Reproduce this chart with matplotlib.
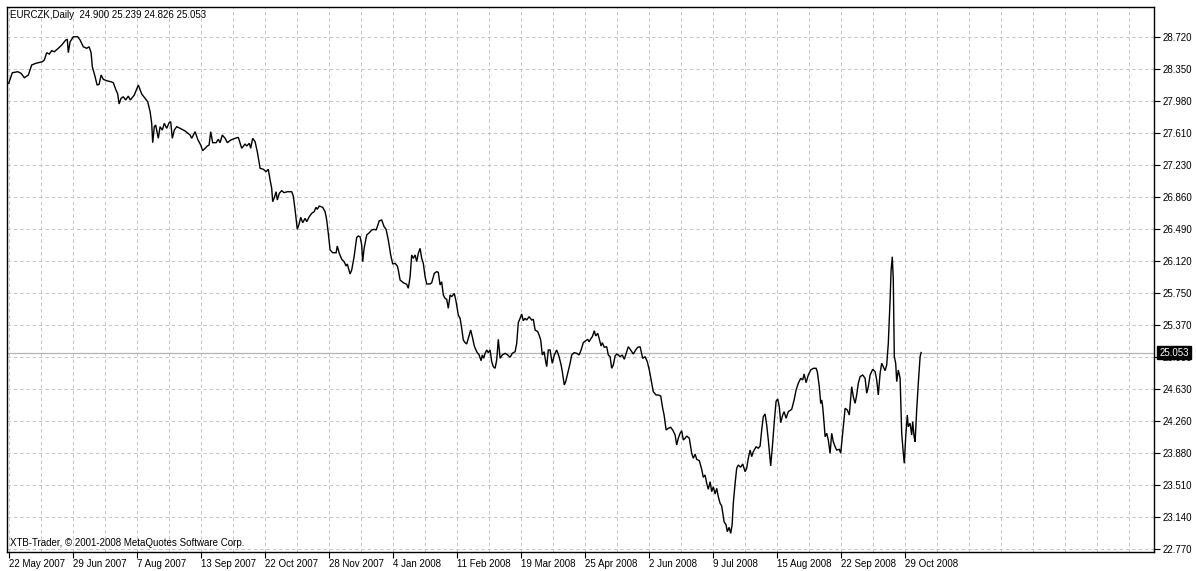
import matplotlib
matplotlib.use("Agg")
import matplotlib.pyplot as plt
import matplotlib.transforms as mtransforms

# ---------------- data (bar index, daily close) ----------------
bars = [
    0, 1.8, 4.5, 6.2, 7.8, 9.8, 11.5, 13.5, 16.8, 17.8, 19, 20.3, 21.5, 22.8, 24.8, 26.5, 28.5, 29.3, 29.8, 30.7,
    32.3, 34.5, 35.7, 37.3, 39, 40.2, 41.2, 41.8, 43.2, 44.2, 45.2, 46.2, 47.3, 49, 51.2, 52.3, 53.5, 54.5, 55.2, 56.2,
    57.3, 58.5, 59.8, 60.8, 62.8, 64.8, 66.5, 68.2, 69.5, 70.7, 71.5, 72, 72.8, 73.5, 74.8, 75.7, 76.8, 77.8, 79, 80.2,
    81, 81.8, 82.8, 84, 85.7, 88.2, 90.7, 91.5, 93.2, 94.5, 96,
    97, 98.2, 99.3, 100.2, 101, 102, 103.7, 104.8, 105.7, 106.8, 108.2, 109.3, 111, 113.2, 114.8, 116.5, 118.2, 119,
    120.3, 121, 122, 123.2, 124.3, 125.7, 127.3, 128.7, 129.8, 130.7, 131.5, 132, 132.7, 133.7, 134.3, 135.3, 136.5,
    137.7, 139.3, 141.5, 142.3, 143.2, 144.3, 145.3, 146, 147, 148.2, 149, 150.3, 151.5, 152.7, 153.7, 154.3, 155.3,
    157, 158.2, 159, 159.8, 160.7, 162, 163.7, 164.3, 165.3, 166.5, 167.7, 168.7, 169.3, 170.7, 171.5, 172.7, 174,
    174.8, 175.7, 176.5, 177, 177.7, 179, 180.3, 181.5, 182.7, 183.7, 184.3, 185.3, 186.5, 187.7, 188.7, 189.8, 191,
    192, 193.2, 194.3,
    194.8, 195.7, 197.3, 199, 199.8, 200.7, 201.5, 202.3, 203.2, 204, 204.8, 205.7, 206.5, 207.3, 208.2, 209, 210.7,
    211.5, 212.8, 214, 214.8, 215.7, 216.5, 217.3, 218.2, 219, 219.8, 220.7, 221.5, 222.8, 223.7, 224.8, 225.7, 226.5,
    227.3, 228.2, 229, 229.8, 231, 231.8, 232.8, 234, 235.2, 236.2, 236.8, 237.5, 238.2, 239, 239.8, 240.7, 241.5,
    242.3, 243.2, 244, 244.8, 245.7, 246.8, 248.2, 249.5, 250.7, 251.8, 253.2, 254, 254.8, 255.7, 256.5, 257.3, 258.2,
    259, 260.2, 261.5, 262.3, 263.2, 264.5, 265.2, 266, 266.8, 267.7, 268.5, 269, 269.8, 270.7, 271.2, 271.8, 272.8,
    274, 275.2, 276.2, 276.8, 277.8, 278.5, 279.5, 280.7, 281.5, 282.7, 284, 285.2, 286.2, 287.3, 288.5, 289.5, 290.2,
    291.2, 291.8, 292.8, 293.5, 294.5, 295.2, 296.2, 296.8, 297.8, 299, 299.8, 300.7, 301.5, 302.3, 303.2, 304, 304.8,
    305.7, 306.8, 307.8, 309, 309.8, 311.2, 312.3, 313.5, 314.5, 315.7,
    317, 318.2, 319.3, 320.3, 321.5, 322.3, 323.7, 324.8, 326, 327, 327.7, 328.7, 329.8, 331, 332, 333.2, 334, 334.8,
    335.7, 336.5, 337.3, 338.2, 339, 340.3, 341.5, 342.3, 343.2, 344, 345.3, 346.5, 347.3, 348.2, 349, 349.8, 350.7,
    351.5, 352.3, 353.2, 354, 354.8, 355.7, 356.5, 357.7, 358.7, 359.3, 360.2, 361, 361.7, 362.3, 363.2, 364, 364.8,
    366, 367, 368.2, 369, 369.8, 370.7, 371.5, 372.3, 373.7, 374.8, 375.7, 376.5, 377.3, 378.2, 379, 379.8, 380.7, 381,
    382, 382.8, 383.7, 384.5, 385.3, 386, 387, 387.7, 388.7, 389.8, 391.5, 392.7, 393.7, 394.8, 396, 397, 397.7, 398.7,
    399.8, 401, 402.3, 403.7, 404.3, 405.3, 406, 406.5, 407, 407.7, 408.2, 409, 409.8, 410.7, 411.5, 412.3, 413.2, 414,
    415.3, 416, 417, 418.2, 419.3, 420.3, 421.5, 422.3, 423.2, 424, 424.8, 425.7, 427, 428.2, 429, 429.8, 430.7, 432,
    433.2, 434, 434.8, 435.7, 436.5, 437.3, 438.2, 439, 439.8, 440.7, 441.2, 441.8, 442.3, 442.8, 443.5, 444, 444.8,
    445.7, 446.5, 447.3, 447.8, 448.5, 449.3, 449.8, 450.7, 451.5, 452, 452.7, 453.2, 454, 454.8, 455.7, 456.2,
]

close = [
    28.182, 28.305, 28.317, 28.298, 28.247, 28.278, 28.395, 28.414, 28.433, 28.453, 28.538, 28.522, 28.561, 28.549,
    28.589, 28.627, 28.685, 28.693, 28.538, 28.665, 28.723, 28.723, 28.685, 28.607, 28.589, 28.607, 28.538, 28.375,
    28.259, 28.162, 28.170, 28.278, 28.228, 28.212, 28.200, 28.189, 28.112, 28.058, 27.942, 28.008, 28.026, 27.988,
    28.034, 27.988, 28.046, 28.162, 28.058, 28.008, 27.968, 27.852, 27.717, 27.492, 27.678, 27.697, 27.543, 27.678,
    27.639, 27.717, 27.659, 27.724, 27.736, 27.543, 27.639, 27.678, 27.659, 27.628, 27.581, 27.543, 27.620, 27.531,
    27.465,
    27.399, 27.427, 27.453, 27.465, 27.620, 27.492, 27.492, 27.531, 27.492, 27.581, 27.543, 27.492, 27.523, 27.543,
    27.554, 27.427, 27.477, 27.453, 27.485, 27.427, 27.543, 27.503, 27.387, 27.194, 27.183, 27.155, 27.183, 27.058,
    26.962, 26.806, 26.846, 26.922, 26.826, 26.904, 26.934, 26.911, 26.922, 26.922, 26.872, 26.710, 26.485, 26.555,
    26.625, 26.562, 26.613, 26.574, 26.632, 26.671, 26.690, 26.741, 26.718, 26.756, 26.741, 26.690, 26.593, 26.439,
    26.245, 26.213, 26.213, 26.291, 26.206, 26.137, 26.109, 26.059, 26.082, 25.966, 26.012, 26.167, 26.392, 26.407,
    26.399, 26.303, 26.109, 26.264, 26.419, 26.446, 26.477, 26.485, 26.477, 26.516, 26.585, 26.593, 26.516, 26.485,
    26.361, 26.187, 26.082, 26.090, 26.059,
    26.012, 25.896, 25.865, 25.846, 25.800, 25.934, 26.187, 26.148, 26.187, 26.109, 26.206, 26.264, 26.148, 26.090,
    25.934, 25.850, 25.850, 25.865, 25.974, 25.993, 25.985, 25.838, 25.876, 25.722, 25.683, 25.672, 25.567, 25.722,
    25.702, 25.741, 25.644, 25.489, 25.451, 25.335, 25.199, 25.168, 25.153, 25.219, 25.315, 25.237, 25.129, 25.063,
    25.025, 24.958, 25.025, 24.986, 25.044, 25.083, 25.052, 25.083, 24.947, 24.889, 24.870, 24.967, 25.207, 24.986,
    25.025, 25.044, 25.025, 24.998, 25.044, 25.063, 25.160, 25.400, 25.451, 25.501, 25.423, 25.451, 25.431, 25.470,
    25.431, 25.439, 25.315, 25.296, 25.257, 25.199, 25.025, 25.063, 24.947, 24.889, 25.083, 25.083, 25.005, 24.928,
    25.025, 25.083, 25.005, 24.908, 24.831, 24.676, 24.715, 24.812, 24.928, 25.025, 25.052, 25.044, 25.025, 25.083,
    25.168, 25.191, 25.207, 25.179, 25.219, 25.237, 25.307, 25.246, 25.277, 25.219, 25.129, 25.168, 25.114, 25.121,
    25.025, 25.005, 24.870, 24.908, 25.013, 25.036, 25.025, 25.005, 25.025, 24.975, 25.063, 25.121, 25.075, 25.036,
    25.083, 25.114, 25.121,
    24.986, 25.005, 24.947, 24.850, 24.696, 24.598, 24.560, 24.560, 24.548, 24.405, 24.327, 24.153, 24.173, 24.184,
    24.153, 24.095, 23.979, 24.057, 24.115, 24.145, 24.037, 24.057, 24.083, 24.057, 23.882, 23.824, 23.874, 23.812,
    23.796, 23.696, 23.603, 23.630, 23.533, 23.464, 23.552, 23.436, 23.494, 23.409, 23.475, 23.378, 23.301, 23.270,
    23.087, 23.049, 22.971, 23.022, 22.952, 23.049, 23.301, 23.533, 23.708, 23.746, 23.720, 23.758, 23.669, 23.708,
    23.824, 23.920, 23.843, 23.901, 23.959, 23.940, 23.967, 24.153, 24.307, 24.339, 24.211, 24.037, 23.804, 23.735,
    24.004, 24.255, 24.487, 24.514, 24.424, 24.238, 24.327, 24.366, 24.289, 24.366, 24.393, 24.502, 24.618, 24.696,
    24.754, 24.734, 24.804, 24.703, 24.792, 24.850, 24.870, 24.870, 24.831, 24.656, 24.463, 24.502, 24.424, 24.231,
    24.075, 24.115, 24.037, 23.882, 24.115, 24.017, 23.959, 23.920, 23.928, 23.882, 24.115, 24.405, 24.386, 24.327,
    24.656, 24.540, 24.463, 24.560, 24.696, 24.773, 24.792, 24.754, 24.580, 24.656, 24.792, 24.858, 24.831, 24.734,
    24.560, 24.812, 24.928, 24.889, 24.842, 24.908, 25.160, 25.664, 26.012, 26.167, 25.896, 25.005, 24.928, 24.715,
    24.850, 24.754, 24.115, 23.882, 23.766, 24.075, 24.327, 24.191, 24.231, 24.095, 24.250, 24.075, 24.017, 24.386,
    24.696, 25.005, 25.053,
]

date_labels = ["22 May 2007", "29 Jun 2007", "7 Aug 2007", "13 Sep 2007", "22 Oct 2007", "28 Nov 2007",
               "4 Jan 2008", "11 Feb 2008", "19 Mar 2008", "25 Apr 2008", "2 Jun 2008", "9 Jul 2008",
               "15 Aug 2008", "22 Sep 2008", "29 Oct 2008"]
date_bars = [0, 32, 64, 96, 128, 160, 192, 224, 256, 288, 320, 352, 384, 416, 448]

price_ticks = [28.720, 28.350, 27.980, 27.610, 27.230, 26.860, 26.490, 26.120, 25.750,
               25.370, 25.000, 24.630, 24.260, 23.880, 23.510, 23.140, 22.770]

last_price = 25.053
title_text = "EURCZK,Daily  24.900 25.239 24.826 25.053"
footer_text = "XTB-Trader, \u00a9 2001-2008 MetaQuotes Software Corp."

# ---------------- figure ----------------
W, H = 1196, 571
fig = plt.figure(figsize=(W / 100, H / 100), dpi=100)
fig.patch.set_facecolor("white")
ax = fig.add_axes([7 / W, (H - 552) / H, (1154 - 7) / W, (552 - 7) / H])
ax.set_facecolor("white")

ax.set_xlim(-0.85, 572.65)
ax.set_ylim(22.735, 29.069)

grid_kw = dict(color="#c4c4c4", lw=0.7, ls=(0, (3.5, 3)), zorder=1)
for gx in range(0, 573, 16):
    ax.axvline(gx, **grid_kw)
for gy in price_ticks:
    ax.axhline(gy, **grid_kw)

# current price line
ax.axhline(last_price, color="#b4b4b4", lw=0.9, zorder=2)

ax.plot(bars, close, color="black", lw=1.0, zorder=3, solid_joinstyle="miter")

for s in ax.spines.values():
    s.set_color("black")
    s.set_linewidth(1.0)

font = ["Liberation Sans", "DejaVu Sans"]
fs = 7

ax.yaxis.tick_right()
ax.set_yticks(price_ticks)
ax.set_yticklabels(["%.3f" % v for v in price_ticks], fontsize=fs, family=font)
ax.tick_params(axis="y", direction="out", length=4, width=0.8, pad=2, colors="black")

ax.set_xticks(date_bars)
ax.set_xticklabels(date_labels, fontsize=fs, family=font, ha="left")
ax.tick_params(axis="x", direction="out", length=4, width=0.8, pad=1, colors="black")

# current price box
trans = mtransforms.blended_transform_factory(ax.transAxes, ax.transData)
ax.text(1.0045, last_price, "%.3f" % last_price, transform=trans, ha="left", va="center",
        fontsize=fs, family=font, color="white", zorder=20, clip_on=False,
        bbox=dict(boxstyle="square,pad=0.2", facecolor="black", edgecolor="black"))

ax.text(3 / 1147, 1 - 8 / 545, title_text, transform=ax.transAxes, ha="left", va="center",
        fontsize=fs, family=font, color="black", zorder=20)
ax.text(3 / 1147, 9 / 545, footer_text, transform=ax.transAxes, ha="left", va="center",
        fontsize=fs, family=font, color="black", zorder=20)

fig.savefig("out.png", dpi=100, facecolor="white")
